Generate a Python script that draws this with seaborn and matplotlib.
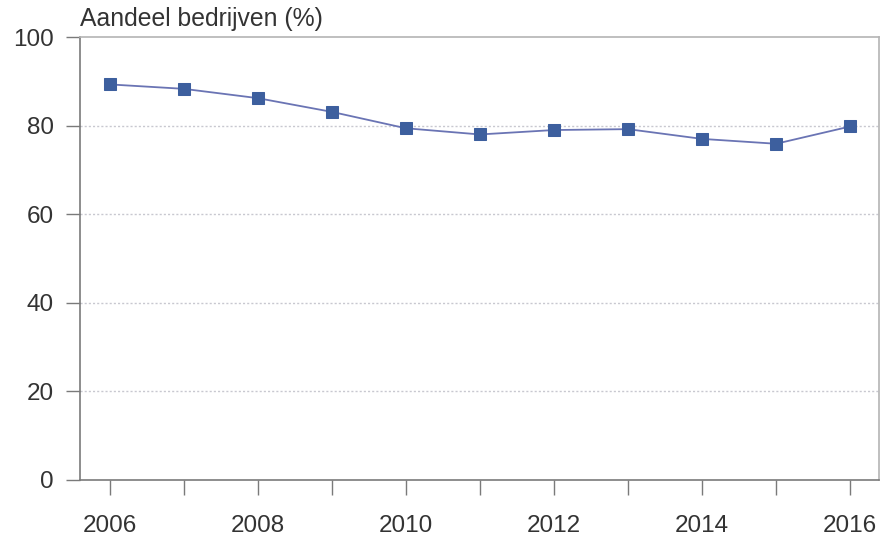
import matplotlib
matplotlib.use("Agg")
import matplotlib.pyplot as plt
import seaborn as sns
import pandas as pd

years = [2006, 2007, 2008, 2009, 2010, 2011, 2012, 2013, 2014, 2015, 2016]
share = [89.3, 88.3, 86.2, 83.1, 79.4, 78.0, 79.0, 79.2, 77.0, 75.9, 79.8]
yticks = [0, 20, 40, 60, 80, 100]
xticks = [2006, 2008, 2010, 2012, 2014, 2016]
title = "Aandeel bedrijven (%)"

sns.set_theme(style="white")
plt.rcParams['font.family'] = ['Liberation Sans', 'DejaVu Sans']

df = pd.DataFrame({"jaar": years, "aandeel": share})

fig = plt.figure(figsize=(8.82, 5.42), dpi=100)
ax = fig.add_axes([80/882, 1-480/542, (879-80)/882, (480-37)/542])

for y in [20, 40, 60, 80]:
    ax.axhline(y, color="#c8c8d0", lw=1.0, ls=(0, (1.5, 1.5)), zorder=0)

sns.lineplot(data=df, x="jaar", y="aandeel", ax=ax, color="#6a74b4", lw=1.3,
             marker="s", markersize=9, markerfacecolor="#3d5f9e",
             markeredgecolor="#3d5f9e", zorder=3)

ax.set_xlim(2005.6, 2016.39)
ax.set_ylim(0, 100)
ax.set_yticks(yticks)
ax.set_xticks(years)
ax.set_xticklabels([str(y) if y in xticks else "" for y in years])
ax.set_xlabel("")
ax.set_ylabel("")

for side in ["left", "bottom"]:
    ax.spines[side].set_color("#7a7a7a")
    ax.spines[side].set_linewidth(1.2)
for side in ["top", "right"]:
    ax.spines[side].set_color("#b4b4b4")
    ax.spines[side].set_linewidth(1.2)

ax.tick_params(axis="y", direction="out", length=10, width=1.0, color="#7a7a7a",
               labelsize=17.5, labelcolor="#333333", pad=9, left=True)
ax.tick_params(axis="x", direction="out", length=11, width=1.0, color="#7a7a7a",
               labelsize=17.5, labelcolor="#333333", pad=14, bottom=True)

ax.text(0.0, 1.014, title, transform=ax.transAxes, fontsize=17.8, color="#333333",
        ha="left", va="bottom")

fig.savefig("out.png", dpi=100)
